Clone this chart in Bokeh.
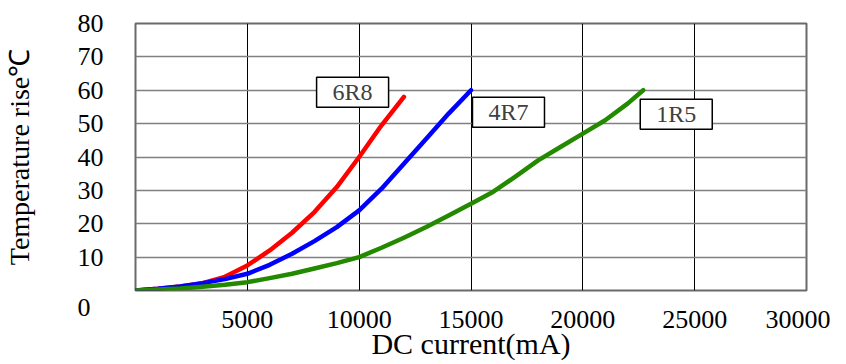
from bokeh.plotting import figure
from bokeh.models import Range1d, FixedTicker
from bokeh.core.properties import value
from bokeh.embed import file_html
from bokeh.resources import INLINE

# ---- data ----
series_names = ["6R8", "4R7", "1R5"]
x_6r8 = [0, 1000, 2000, 3000, 4000, 5000, 6000, 7000, 8000, 9000, 10000, 11000, 12000]
y_6r8 = [0, 0.5, 1.2, 2.2, 4.1, 7.5, 12, 17.3, 23.5, 31, 40, 49.5, 58]
x_4r7 = [0, 1000, 2000, 3000, 4000, 5000, 6000, 7000, 8000, 9000, 10000, 11000, 12000, 13000, 14000, 15000]
y_4r7 = [0, 0.5, 1.2, 2.2, 3.4, 5.0, 7.7, 11, 14.8, 19, 24, 30.5, 38, 45.5, 53, 60]
x_1r5 = [0, 2000, 3000, 4000, 5000, 6000, 7000, 8000, 9000, 10000, 11000, 12000, 13000, 14000,
         15000, 16000, 17000, 18000, 19000, 20000, 21000, 22000, 22700]
y_1r5 = [0, 0.6, 1.1, 1.7, 2.5, 3.7, 5.0, 6.6, 8.2, 10, 12.8, 15.8, 19, 22.5,
         26, 29.6, 34.2, 39, 43, 47, 51, 56, 60]
x_ticks = [5000, 10000, 15000, 20000, 25000, 30000]
y_ticks = [0, 10, 20, 30, 40, 50, 60, 70, 80]

# ---- layout / style ----
FONT = "Liberation Serif"
colors = ["#ff0000", "#0000ff", "#238a00"]
label_pos = {"6R8": (9706, 59.4), "4R7": (16676, 53.4), "1R5": (24176, 52.8)}

p = figure(width=830, height=362, output_backend="svg", toolbar_location=None,
           x_range=Range1d(0, 30000), y_range=Range1d(0, 80),
           min_border_left=127, min_border_right=24, min_border_top=23,
           min_border_bottom=72, background_fill_color="white",
           border_fill_color="white")

p.outline_line_color = "#6a6a6a"
p.outline_line_width = 2

p.xaxis.ticker = FixedTicker(ticks=x_ticks)
p.yaxis.ticker = FixedTicker(ticks=y_ticks)
p.xgrid[0].ticker = FixedTicker(ticks=[0] + x_ticks)
p.ygrid[0].ticker = FixedTicker(ticks=y_ticks[1:])
p.xgrid.grid_line_color = "black"
p.xgrid.grid_line_width = 1
p.ygrid.grid_line_color = "#808080"
p.ygrid.grid_line_width = 1.5

for ax in (p.xaxis, p.yaxis):
    ax.axis_line_color = None
    ax.major_tick_line_color = None
    ax.minor_tick_line_color = None
    ax.major_label_text_font = FONT
    ax.major_label_text_font_size = "26px"
    ax.major_label_text_color = "black"

p.xaxis.major_label_standoff = 14
p.yaxis.major_label_standoff = 26
# the "0" label sits lower than the axis in the reference
p.yaxis.major_label_overrides = {0: "\n0  "}

p.yaxis.axis_label = "Temperature rise℃"
p.yaxis.axis_label_text_font = FONT
p.yaxis.axis_label_text_font_size = "28px"
p.yaxis.axis_label_text_font_style = "normal"
p.yaxis.axis_label_text_color = "black"
p.yaxis.axis_label_standoff = 40

p.xaxis.axis_label = "DC current(mA)"
p.xaxis.axis_label_text_font = FONT
p.xaxis.axis_label_text_font_size = "30px"
p.xaxis.axis_label_text_font_style = "normal"
p.xaxis.axis_label_text_color = "black"
p.xaxis.axis_label_standoff = -4

# curves
for xs, ys, c in zip([x_6r8, x_4r7, x_1r5], [y_6r8, y_4r7, y_1r5], colors):
    p.line(xs, ys, line_color=c, line_width=4.5, line_cap="round", line_join="round")

# label boxes
lx = [label_pos[n][0] for n in series_names]
ly = [label_pos[n][1] for n in series_names]
p.rect(x=lx, y=ly, width=72, height=30, width_units="screen", height_units="screen",
       fill_color="white", line_color="black", line_width=1.5)
p.text(x=lx, y=ly, text=series_names, text_align="center", text_baseline="middle",
       text_font=value(FONT), text_font_size="24px", text_color="#404040")

open("out.html", "w").write(file_html(p, INLINE))
